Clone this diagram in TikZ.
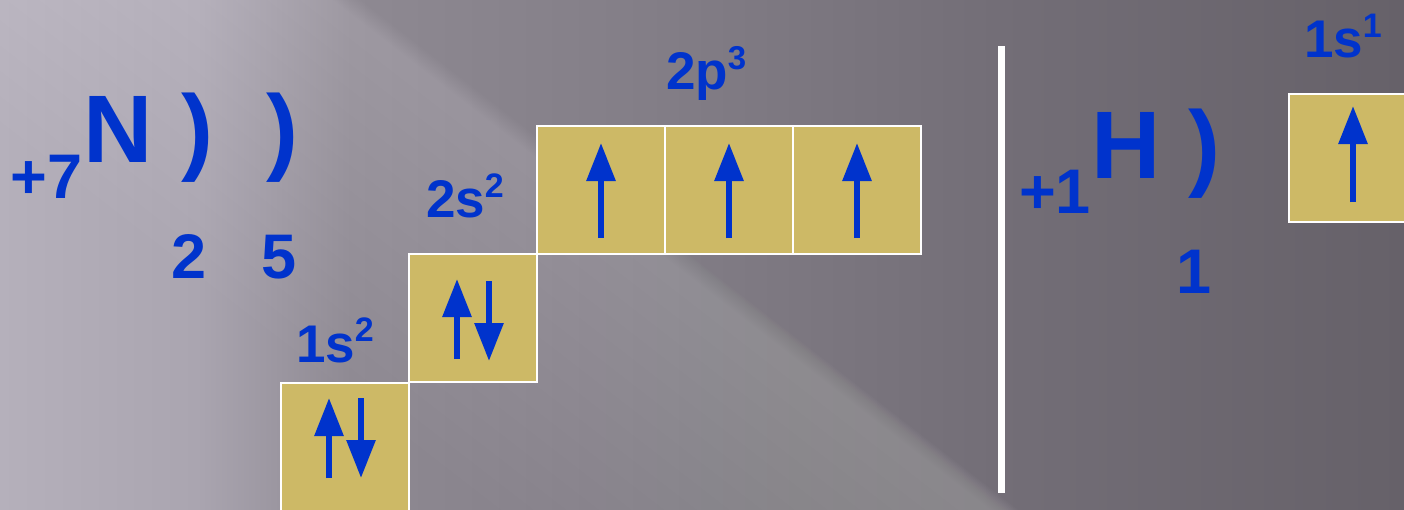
\documentclass[tikz,border=0pt]{standalone}
\usepackage{fontspec}
\setmainfont{Liberation Sans}
\usetikzlibrary{arrows.meta}
\definecolor{txt}{RGB}{0,51,204}
\definecolor{orbfill}{RGB}{205,185,102}
\definecolor{bgA}{RGB}{181,176,187}
\definecolor{bgB}{RGB}{170,165,176}
\definecolor{bgC}{RGB}{142,137,146}
\definecolor{bgD}{RGB}{131,126,135}
\definecolor{bgE}{RGB}{115,110,119}
\definecolor{bgF}{RGB}{102,97,105}
% stops: x=0 ->25bp, x=1404 ->75bp
\pgfdeclarehorizontalshading{bgsh}{100bp}{color(0bp)=(bgA); color(25bp)=(bgA); color(32bp)=(bgB); color(37.5bp)=(bgC); color(48bp)=(bgD); color(60.5bp)=(bgE); color(75bp)=(bgF); color(100bp)=(bgF)}
\begin{document}
\begin{tikzpicture}[x=1pt,y=-1pt,
  orb/.style={draw=white, line width=2pt, fill=orbfill, minimum size=128pt, inner sep=0pt, outer sep=0pt, shape=rectangle},
  sz/.style={font=\bfseries\fontsize{#1}{#1}\selectfont},
  lbl/.style={text=txt, anchor=base west, inner sep=0pt, outer sep=0pt},
  spin/.style={draw=txt, line width=6pt, -{Triangle[length=38pt,width=28pt]}}]
\useasboundingbox (0,0) rectangle (1404,509);
% background
\shade[shading=bgsh] (0,0) rectangle (1404,509);
\foreach \i in {0,...,14}{
  \pgfmathsetmacro\oa{-\i*1.2}
  \pgfmathsetmacro\ob{300-\i*20}
  \fill[white, opacity=0.0155] ({-62-0.612*\oa},{-306+0.790*\oa}) -- ({1227-0.612*\oa},{693+0.790*\oa}) -- ({1227-0.612*\ob},{693+0.790*\ob}) -- ({-62-0.612*\ob},{-306+0.790*\ob}) -- cycle;
}
% nitrogen
\node[lbl, sz=63] (chN) at (10.5,198) {+7};
\node[lbl, sz=96] (N) at (83,162) {N};
\node[lbl, sz=96] (shN1) at (181,162) {)};
\node[lbl, sz=96] (shN2) at (266,162) {)};
\node[lbl, sz=63] (eN1) at (171,278) {2};
\node[lbl, sz=63] (eN2) at (261,278) {5};
% orbital boxes
\node[orb] (s1) at (344.5,447) {};
\node[orb] (s2) at (472.5,318) {};
\node[orb] (p1) at (601,190) {};
\node[orb] (p2) at (729,190) {};
\node[orb] (p3) at (857,190) {};
% labels
\node[lbl, sz=53] (l1s) at (296,362) {1s\raisebox{21pt}{\fontsize{34}{34}\selectfont 2}};
\node[lbl, sz=53] (l2s) at (426,217) {2s\raisebox{20pt}{\fontsize{34}{34}\selectfont 2}};
\node[lbl, sz=53] (l2p) at (666,89) {2p\raisebox{20pt}{\fontsize{33}{33}\selectfont 3}};
% spins
\draw[spin] ([shift={(-15.5,31)}]s1.center) -- ([shift={(-15.5,-49)}]s1.center);
\draw[spin] ([shift={(16.5,-49)}]s1.center) -- ([shift={(16.5,31)}]s1.center);
\draw[spin] ([shift={(-15.5,41)}]s2.center) -- ([shift={(-15.5,-39)}]s2.center);
\draw[spin] ([shift={(16.5,-37)}]s2.center) -- ([shift={(16.5,43)}]s2.center);
\draw[spin] ([shift={(0,48)}]p1.center) -- ([shift={(0,-47)}]p1.center);
\draw[spin] ([shift={(0,48)}]p2.center) -- ([shift={(0,-47)}]p2.center);
\draw[spin] ([shift={(0,48)}]p3.center) -- ([shift={(0,-47)}]p3.center);
% divider
\coordinate (vt) at (1001,46);
\coordinate (vb) at (1001,493);
\draw[white, line width=7pt] (vt) -- (vb);
% hydrogen
\node[lbl, sz=63] (chH) at (1019,213) {+1};
\node[lbl, sz=96] (H) at (1091,178) {H};
\node[lbl, sz=96] (shH) at (1188,178) {)};
\node[lbl, sz=63] (eH) at (1176,293) {1};
\node[orb] (h1) at (1353,158) {};
\node[lbl, sz=53] (l1sH) at (1304,57) {1s\raisebox{20pt}{\fontsize{34}{34}\selectfont 1}};
\draw[spin] ([shift={(0,44)}]h1.center) -- ([shift={(0,-52)}]h1.center);
\end{tikzpicture}
\end{document}
